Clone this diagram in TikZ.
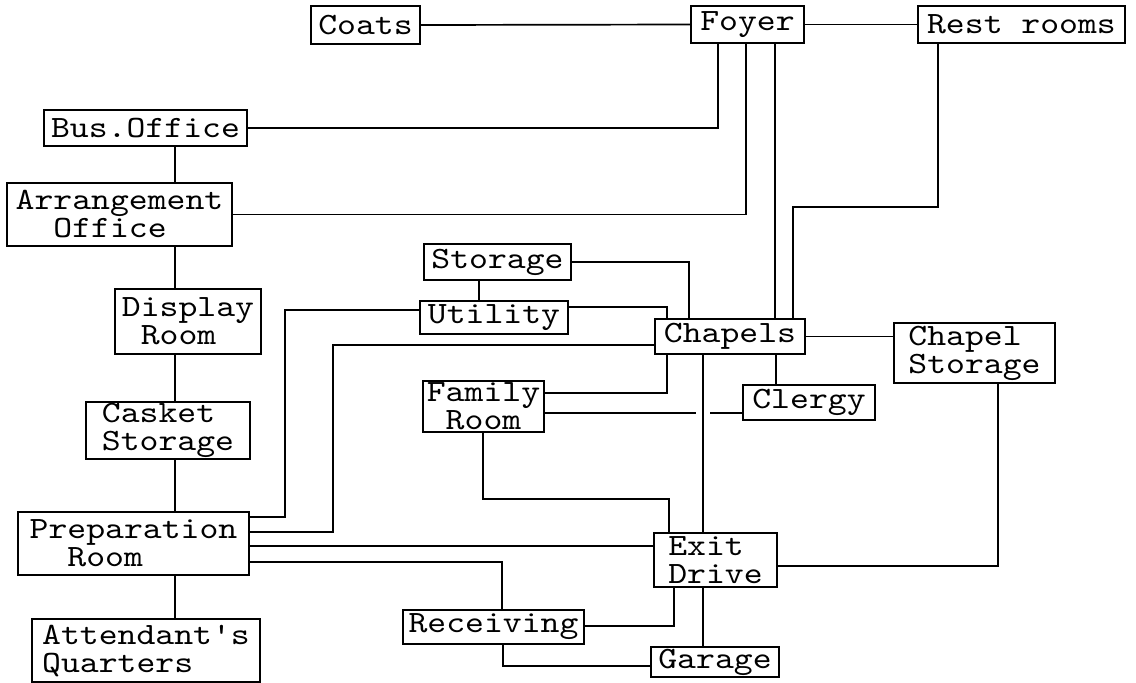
\documentclass[tikz,border=0pt]{standalone}
\usepackage{fontspec}
\newfontfamily\typew{lmmono10-regular.otf}[FakeStretch=1.16]
\begin{document}
\begin{tikzpicture}[x=1pt,y=-1pt,
  room/.style={draw, line width=1.7pt, inner sep=0pt, align=left,
    font=\typew\fontsize{31}{28}\selectfont},
  link/.style={line width=1.7pt}]
\fill[white] (0,0) rectangle (1136,683);
\useasboundingbox (0,0) rectangle (1136,683);
% rooms
\node[room, minimum width=109pt, minimum height=38pt] (coats) at (365.5,25) {Coats};
\node[room, minimum width=113pt, minimum height=37pt] (foyer) at (747.5,24.5) {Foyer};
\node[room, minimum width=207pt, minimum height=37pt] (rest) at (1021.5,24.5) {Rest rooms};
\node[room, minimum width=203pt, minimum height=36pt] (bus) at (145.5,128) {Bus.Office};
\node[room, minimum width=225pt, minimum height=63pt] (arr) at (119.5,214.5) {Arrangement\\\phantom{xx}Office};
\node[room, minimum width=146pt, minimum height=65pt] (disp) at (188,321.5) {Display\\\phantom{x}Room};
\node[room, minimum width=164pt, minimum height=57pt] (casket) at (168,430.5) {Casket\\Storage};
\node[room, minimum width=231pt, minimum height=63pt] (prep) at (133.5,543.5) {Preparation\\\phantom{xx}Room};
\node[room, minimum width=228pt, minimum height=63pt] (att) at (146,650.5) {Attendant's\\Quarters};
\node[room, minimum width=147pt, minimum height=36pt] (storage) at (497.5,262) {Storage};
\node[room, minimum width=148pt, minimum height=33pt] (utility) at (494,317.5) {Utility};
\node[room, minimum width=150pt, minimum height=35pt] (chapels) at (730,336.5) {Chapels};
\node[room, minimum width=161pt, minimum height=60pt] (chstor) at (974.5,353) {Chapel\\Storage};
\node[room, minimum width=121pt, minimum height=51pt] (family) at (483.5,406.5) {Family\\\phantom{x}Room};
\node[room, minimum width=132pt, minimum height=35pt] (clergy) at (809,402.5) {Clergy};
\node[room, minimum width=123pt, minimum height=54pt] (exit) at (715.5,560) {Exit\\Drive};
\node[room, minimum width=181pt, minimum height=34pt] (recv) at (493.5,627) {Receiving};
\node[room, minimum width=128pt, minimum height=30pt] (garage) at (715,662) {Garage};
% connectors
\draw[link] (coats.east) -- (foyer.west);
\draw[link] (foyer.east) -- (rest.west);
\draw[link] (foyer.south -| 718,0) |- (bus.east);
\draw[link] (foyer.south -| 746,0) |- (arr.east);
\draw[link] (foyer.south -| 775,0) -- (chapels.north -| 775,0);
\draw[link] (rest.south -| 938,0) -- (938,207) -| (chapels.north -| 793,0);
\draw[link] (bus.south -| 175,0) -- (arr.north -| 175,0);
\draw[link] (arr.south -| 175,0) -- (disp.north -| 175,0);
\draw[link] (disp.south -| 175,0) -- (casket.north -| 175,0);
\draw[link] (casket.south -| 175,0) -- (prep.north -| 175,0);
\draw[link] (prep.south -| 175,0) -- (att.north -| 175,0);
\draw[link] (storage.south -| 479,0) -- (utility.north -| 479,0);
\draw[link] (storage.east) -| (chapels.north -| 689,0);
\draw[link] (utility.east |- 0,307) -| (chapels.north -| 667,0);
\draw[link] (utility.west |- 0,310) -| (285,517) -- (prep.east |- 0,517);
\draw[link] (chapels.west |- 0,345) -| (333,532) -- (prep.east |- 0,532);
\draw[link] (chapels.east) -- (chstor.west |- chapels.east);
\draw[link] (chapels.south -| 667,0) |- (family.east |- 0,393);
\draw[link] (chapels.south -| 776,0) -- (clergy.north -| 776,0);
\draw[link] (family.east |- 0,413) -- (696,413) (710,413) -- (clergy.west |- 0,413);
\draw[link] (family.south -| 483,0) |- (669,499) -- (exit.north -| 669,0);
\draw[link] (chapels.south -| 703,0) -- (exit.north -| 703,0);
\draw[link] (prep.east |- 0,546) -- (exit.west |- 0,546);
\draw[link] (prep.east |- 0,562) -| (recv.north -| 502,0);
\draw[link] (recv.east |- 0,626) -| (exit.south -| 674,0);
\draw[link] (exit.south -| 703,0) -- (garage.north -| 703,0);
\draw[link] (recv.south -| 503,0) |- (garage.west |- 0,666);
\draw[link] (exit.east |- 0,566) -| (chstor.south -| 998,0);
\end{tikzpicture}
\end{document}
